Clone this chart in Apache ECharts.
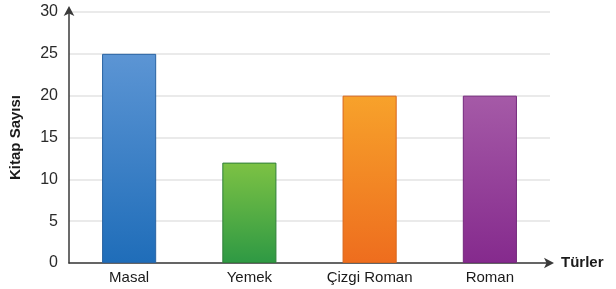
<!DOCTYPE html>
<html>
<head>
<meta charset="utf-8">
<script src="https://cdn.jsdelivr.net/npm/echarts@6/dist/echarts.min.js"></script>
<style>
  html, body { margin: 0; padding: 0; background: #fff; }
  #chart { width: 616px; height: 289px; }
</style>
</head>
<body>
<div id="chart"></div>
<script>
// veriler
const categories = ['Masal', 'Yemek', 'Çizgi Roman', 'Roman'];
const values = [25, 12, 20, 20];
const yTicks = [0, 5, 10, 15, 20, 25, 30];

// çubuk renkleri (üst, alt, kenar)
const barColors = [
  ['#5c95d4', '#1f6db9', '#2a64a3'],
  ['#7dc244', '#2e9944', '#2f7f3a'],
  ['#f7a22b', '#ee6d1e', '#d9661c'],
  ['#a55aa7', '#852a8d', '#74287c'],
];

const myChart = echarts.init(document.getElementById('chart'));

myChart.setOption({
  animation: false,
  textStyle: { fontFamily: '"Liberation Sans", Arial, sans-serif' },
  grid: { left: 69, right: 66, top: 12, bottom: 26 },
  xAxis: {
    type: 'category',
    data: categories,
    name: 'Türler',
    nameLocation: 'end',
    nameGap: 11,
    nameTextStyle: { fontSize: 15, fontWeight: 'bold', color: '#1a1a1a', verticalAlign: 'middle' },
    axisLine: {
      lineStyle: { color: '#3a3a3a', width: 1.5 },
      symbol: ['none', 'arrow'],
      symbolSize: [8, 10],
      symbolOffset: [0, 4],
    },
    axisTick: { show: false },
    axisLabel: { fontSize: 15, color: '#1a1a1a', margin: 7 },
  },
  yAxis: {
    type: 'value',
    min: yTicks[0],
    max: yTicks[yTicks.length - 1],
    interval: 5,
    name: 'Kitap Sayısı',
    nameLocation: 'middle',
    nameGap: 46,
    nameTextStyle: { fontSize: 15, fontWeight: 'bold', color: '#1a1a1a' },
    axisLine: {
      show: true,
      lineStyle: { color: '#3a3a3a', width: 1.5 },
      symbol: ['none', 'arrow'],
      symbolSize: [8, 10],
      symbolOffset: [0, 6],
    },
    axisTick: { show: false },
    axisLabel: { fontSize: 16, color: '#2a2a2a', margin: 11 },
    splitLine: { lineStyle: { color: '#e3e3e3', width: 1.5 } },
  },
  series: [{
    type: 'bar',
    barWidth: '45%',
    data: values.map((v, i) => ({
      value: v,
      itemStyle: {
        color: new echarts.graphic.LinearGradient(0, 0, 0, 1, [
          { offset: 0, color: barColors[i][0] },
          { offset: 1, color: barColors[i][1] },
        ]),
        borderColor: barColors[i][2],
        borderWidth: 1,
      },
    })),
  }],
});
</script>
</body>
</html>
